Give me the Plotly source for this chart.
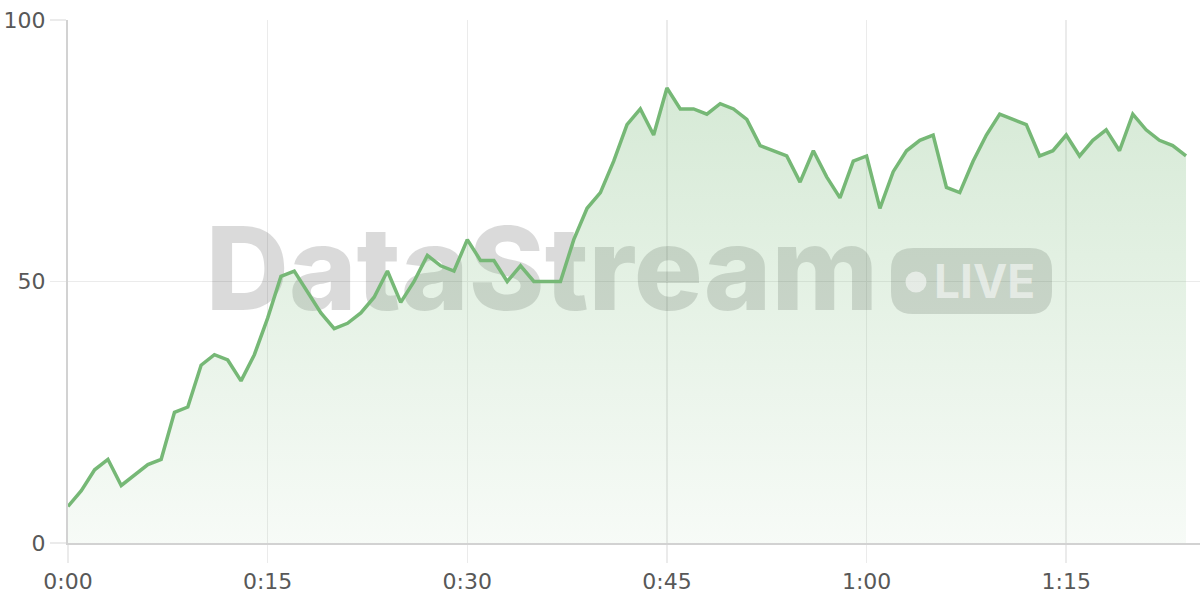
import plotly.graph_objects as go

# ---- data ----
minutes = list(range(85))
values = [7, 10, 14, 16, 11, 13, 15, 16, 25, 26,
          34, 36, 35, 31, 36, 43, 51, 52, 48, 44,
          41, 42, 44, 47, 52, 46, 50, 55, 53, 52,
          58, 54, 54, 50, 53, 50, 50, 50, 58, 64,
          67, 73, 80, 83, 78, 87, 83, 83, 82, 84,
          83, 81, 76, 75, 74, 69, 75, 70, 66, 73,
          74, 64, 71, 75, 77, 78, 68, 67, 73, 78,
          82, 81, 80, 74, 75, 78, 74, 77, 79, 75,
          82, 79, 77, 76, 74]
tick_vals = [0, 15, 30, 45, 60, 75]
tick_text = ["0:00", "0:15", "0:30", "0:45", "1:00", "1:15"]
y_ticks = [0, 50, 100]

LINE = "#76b876"
X_MAX = 85.05
L, T, W, H = 68, 20, 1132, 523  # plot area in page pixels


def px2x(p):
    return (p - L) / W * X_MAX


def py2y(p):
    return (T + H - p) / H * 100


fig = go.Figure()

# watermark text (drawn beneath the data trace)
fig.add_trace(go.Scatter(
    x=[px2x(542)], y=[py2y(281)], mode="text", text=["DataStream"],
    textposition="middle center",
    textfont=dict(family="Inter", size=115, weight=800, color="rgba(0,0,0,0.145)"),
    hoverinfo="skip", showlegend=False,
))

fig.add_trace(go.Scatter(
    x=minutes, y=values, mode="lines",
    line=dict(color=LINE, width=3.5),
    fill="tozeroy",
    fillgradient=dict(type="vertical", start=0, stop=87,
                      colorscale=[[0, "rgba(118,184,118,0.06)"],
                                  [1, "rgba(118,184,118,0.30)"]]),
    hoverinfo="skip", showlegend=False,
))

# LIVE badge (rounded rectangle)
bx0, bx1, by0, by1, r = 891, 1052, 248, 314, 22


def P(px, py):
    return f"{px2x(px)},{py2y(py)}"


path = (f"M {P(bx0 + r, by0)} L {P(bx1 - r, by0)} Q {P(bx1, by0)} {P(bx1, by0 + r)} "
        f"L {P(bx1, by1 - r)} Q {P(bx1, by1)} {P(bx1 - r, by1)} "
        f"L {P(bx0 + r, by1)} Q {P(bx0, by1)} {P(bx0, by1 - r)} "
        f"L {P(bx0, by0 + r)} Q {P(bx0, by0)} {P(bx0 + r, by0)} Z")
fig.add_shape(type="path", path=path, xref="x", yref="y",
              fillcolor="rgba(0,0,0,0.145)", line=dict(width=0), layer="between")
cx, cy, cr = 916, 282, 10.5
fig.add_shape(type="circle", xref="x", yref="y",
              x0=px2x(cx - cr), x1=px2x(cx + cr), y0=py2y(cy + cr), y1=py2y(cy - cr),
              fillcolor="rgba(255,255,255,0.55)", line=dict(width=0), layer="above")
fig.add_annotation(x=px2x(984), y=py2y(281), xref="x", yref="y", text="LIVE",
                   showarrow=False, xanchor="center", yanchor="middle",
                   font=dict(family="Inter", size=46, weight=700,
                             color="rgba(255,255,255,0.55)"))

FW, FH = 1200, 600
fig.update_layout(
    width=FW, height=FH,
    margin=dict(l=L, r=FW - L - W, t=T, b=FH - T - H, autoexpand=False),
    paper_bgcolor="white", plot_bgcolor="white",
    font=dict(family="DejaVu Sans", size=22, color="#585858"),
    showlegend=False,
)
fig.update_xaxes(
    range=[0, X_MAX], tickmode="array", tickvals=tick_vals, ticktext=tick_text,
    showgrid=True, gridcolor="#ebebeb", gridwidth=1.5,
    ticks="outside", ticklen=18, tickcolor="#ebebeb", tickwidth=1.5,
    showline=True, linecolor="#d2d2d2", linewidth=2,
    zeroline=False, fixedrange=True, automargin=False, ticklabeloverflow="allow",
)
fig.update_yaxes(
    range=[0, 100], tickmode="array", tickvals=y_ticks,
    showgrid=True, gridcolor="#ebebeb", gridwidth=1.5,
    ticks="outside", ticklen=16, tickcolor="#ebebeb", tickwidth=1.5,
    showline=True, linecolor="#d2d2d2", linewidth=2,
    zeroline=False, fixedrange=True, automargin=False, ticklabeloverflow="allow",
)

fig.write_html(
    "out.html",
    config={"displayModeBar": False, "staticPlot": True},
    post_script="document.body.style.margin='0px';document.body.style.overflow='hidden';",
)
